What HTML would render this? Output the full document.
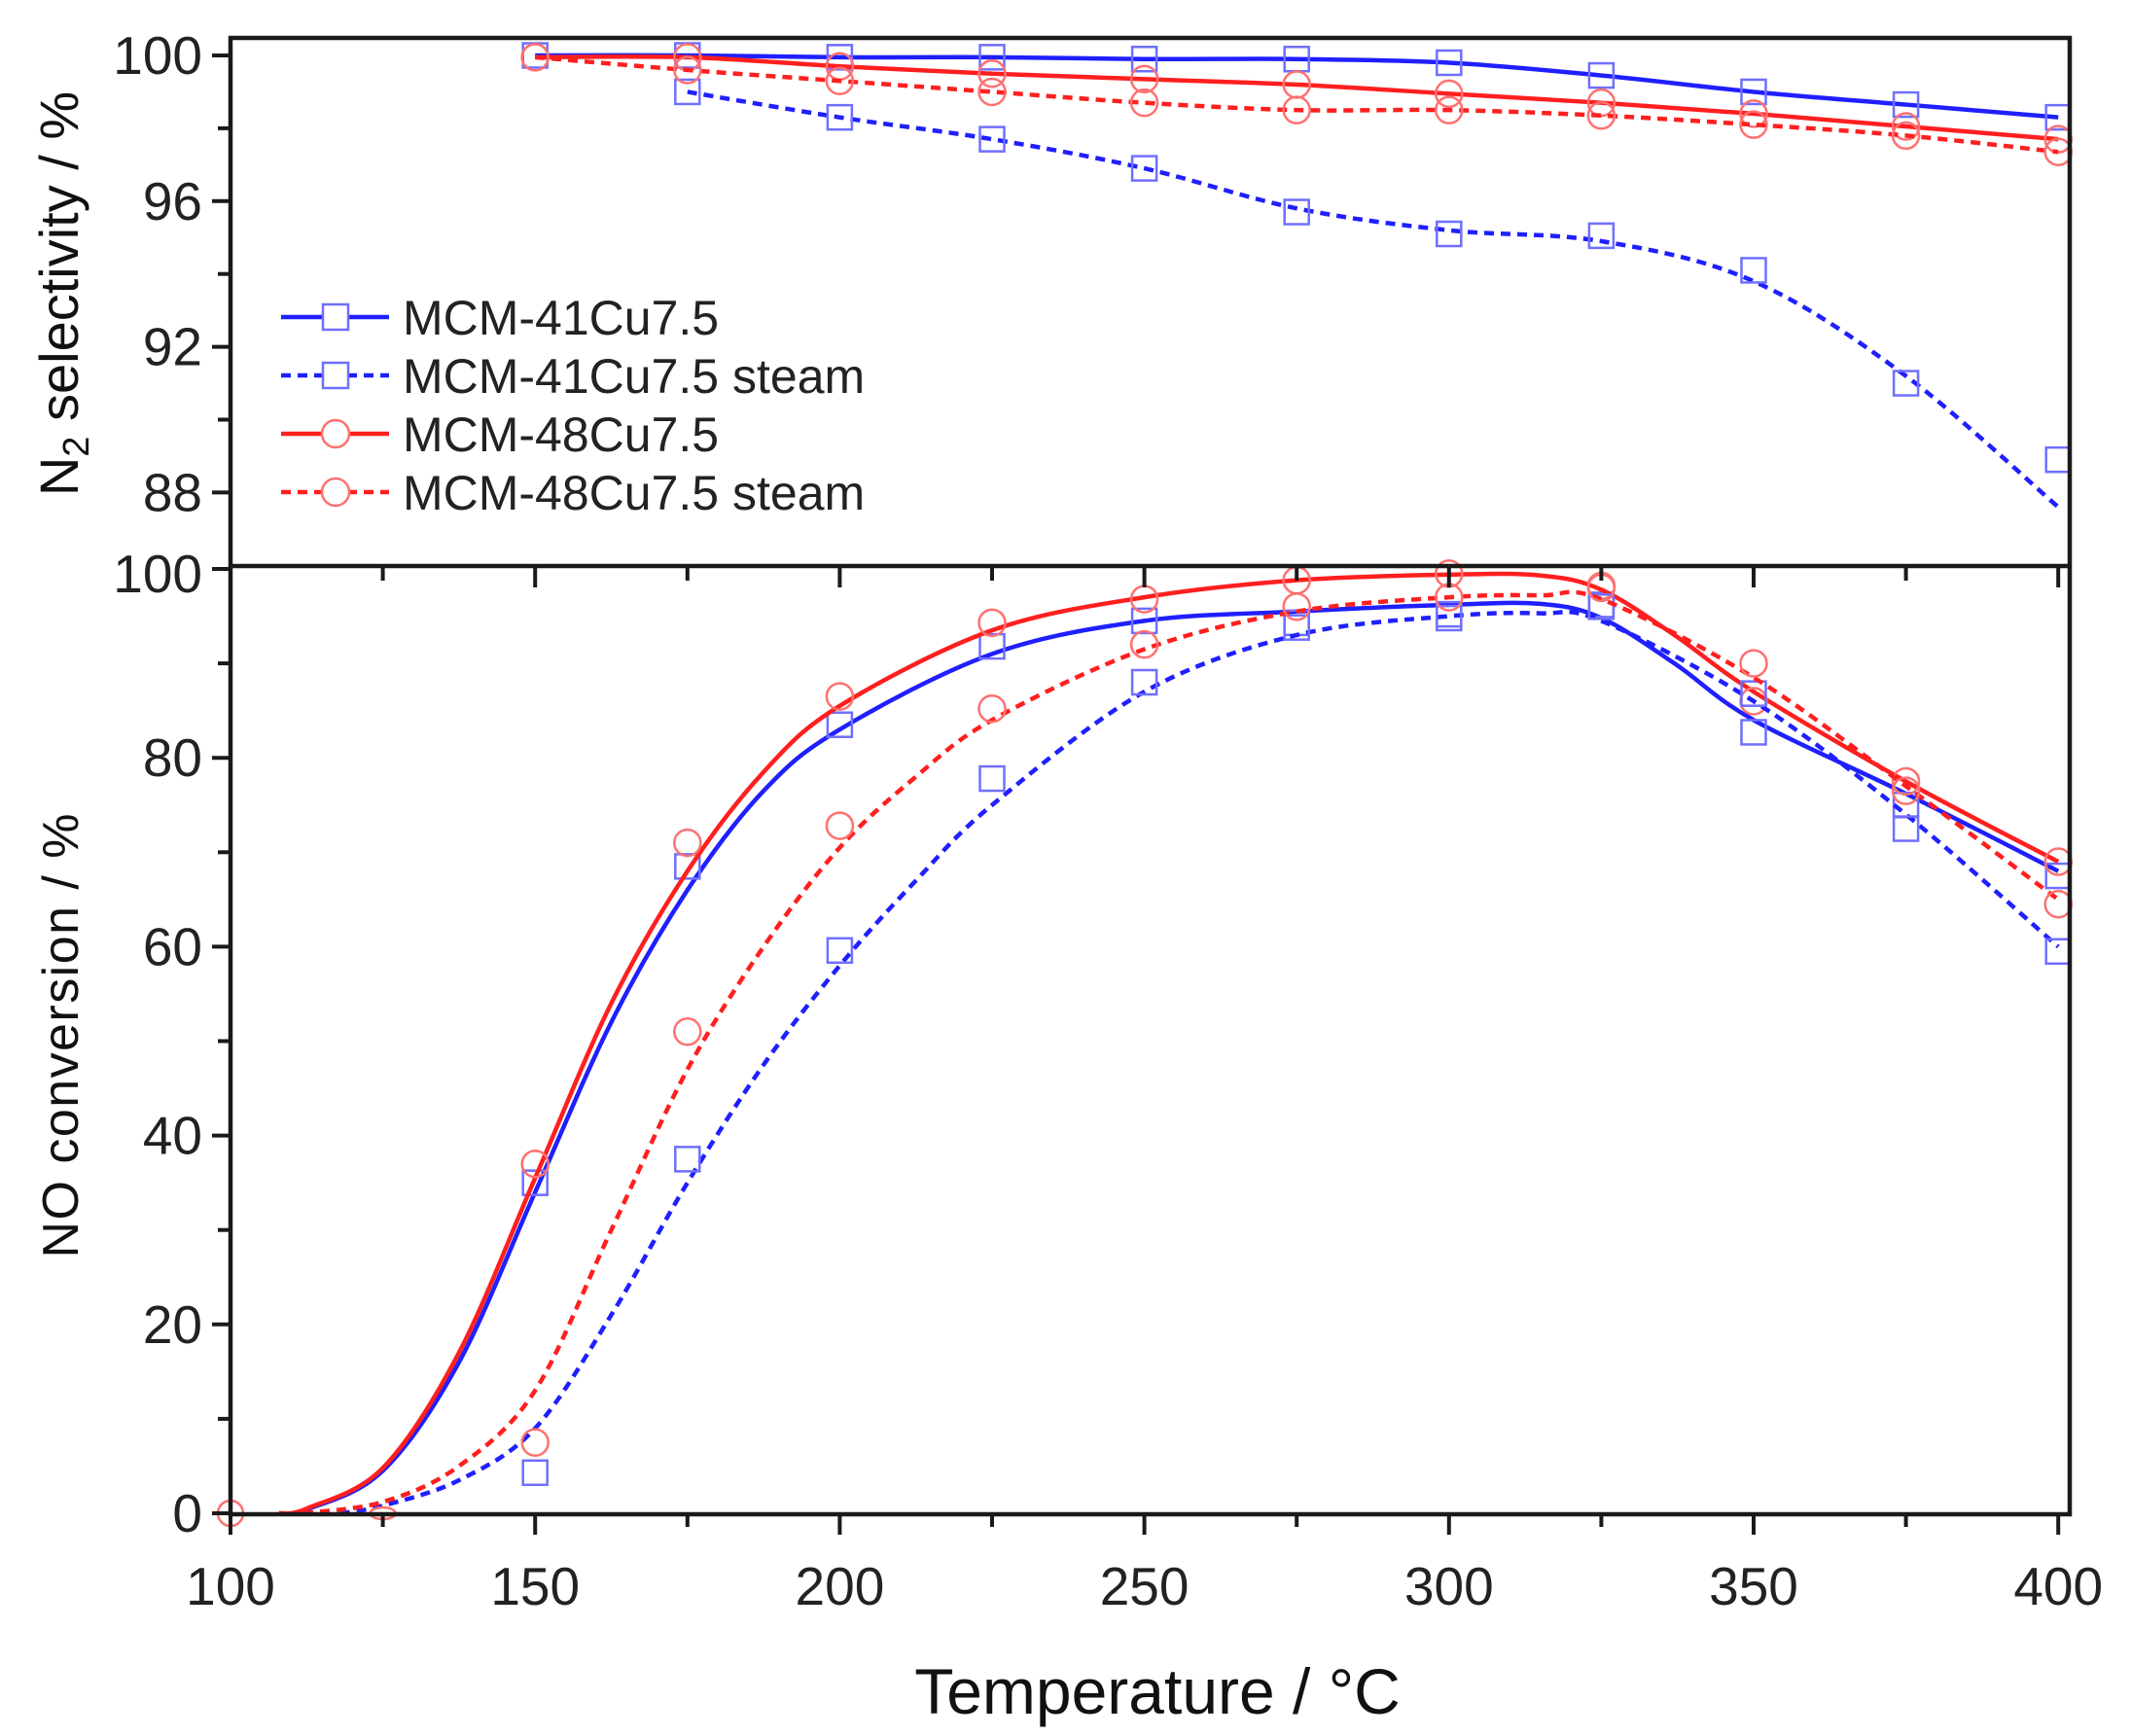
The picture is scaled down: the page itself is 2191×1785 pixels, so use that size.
<!DOCTYPE html>
<html><head><meta charset="utf-8"><style>
html,body{margin:0;padding:0;background:#fff;}
svg{display:block;font-family:"Liberation Sans",Arial,sans-serif;}
</style></head><body>
<svg id="s" width="2191" height="1785" viewBox="0 0 2191 1785" xmlns="http://www.w3.org/2000/svg">
<rect width="2191" height="1785" fill="#fff"/>
<g id="data"></g>
<g id="axes" stroke="#1a1a1a" stroke-width="4.5" fill="none">
<rect x="237" y="39" width="1891" height="1518"/>
<line x1="237" y1="582" x2="2128" y2="582"/>
</g>
<g id="ticks" stroke="#1a1a1a" stroke-width="4"></g>
<g font-size="55" fill="#222" text-anchor="end" id="ylab"></g>
<g font-size="55" fill="#222" text-anchor="middle" id="xlab"></g>
<text x="1190" y="1762" font-size="66" text-anchor="middle" fill="#111">Temperature / °C</text>
<text transform="translate(80,302) rotate(-90)" font-size="56" text-anchor="middle" fill="#111">N<tspan font-size="38" dy="11">2</tspan><tspan dy="-11"> selectivity / %</tspan></text>
<text transform="translate(80,1065) rotate(-90)" font-size="52" text-anchor="middle" fill="#111" textLength="457">NO conversion / %</text>
<g id="legend" font-size="50" fill="#222"></g>
</svg>
<script>
const NS="http://www.w3.org/2000/svg";
function el(t,a,p){const e=document.createElementNS(NS,t);for(const k in a)e.setAttribute(k,a[k]);(p||document.getElementById('data')).appendChild(e);return e;}
const X=T=>237+(T-100)*6.264;
const YT=v=>57+(100-v)*37.45;
const YB=v=>1556-v*9.71;
function cr(pts){let d="M"+pts[0][0]+","+pts[0][1];for(let i=0;i<pts.length-1;i++){const p0=pts[Math.max(0,i-1)],p1=pts[i],p2=pts[i+1],p3=pts[Math.min(pts.length-1,i+2)];
const c1=[p1[0]+(p2[0]-p0[0])/6,p1[1]+(p2[1]-p0[1])/6],c2=[p2[0]-(p3[0]-p1[0])/6,p2[1]-(p3[1]-p1[1])/6];d+=" C"+c1+" "+c2+" "+p2;}return d;}
const BL="#1f1fff",RD="#ff1f1f",BLm="#6f6fff",RDm="#ff7070";
function series(curve,marks,Y,col,mcol,dash,shape){
 el('path',{d:cr(curve.map(p=>[X(p[0]),Y(p[1])])),stroke:col,'stroke-width':4.5,fill:'none','stroke-dasharray':dash?'10 7':'none'});
 marks.forEach(p=>{const x=X(p[0]),y=Y(p[1]);
  if(shape=='s')el('rect',{x:x-12.5,y:y-12.5,width:25,height:25,fill:'none',stroke:mcol,'stroke-width':2.5});
  else el('ellipse',{cx:x,cy:y,rx:13.5,ry:13.5,fill:'none',stroke:mcol,'stroke-width':2.5});});
}
const T=[150,175,200,225,250,275,300,325,350,375,400];
const t41=[100,100,99.95,99.95,99.9,99.9,99.8,99.45,99.0,98.65,98.3];
const t41s=[null,99.0,98.3,97.7,96.9,95.7,95.1,95.05,94.1,91.0,88.9];
const t48=[99.95,99.95,99.7,99.5,99.35,99.2,98.95,98.7,98.4,98.05,97.7];
const t48s=[99.95,99.6,99.3,99.0,98.7,98.5,98.5,98.35,98.1,97.8,97.35];
const zip=a=>T.map((t,i)=>[t,a[i]]).filter(p=>p[1]!=null);
series(zip(t41),zip(t41),YT,BL,BLm,false,'s');
series([[175,99.0],[200,98.3],[225,97.7],[250,96.9],[275,95.8],[300,95.2],[325,94.9],[350,93.8],[375,91.2],[400,87.6]],zip(t41s),YT,BL,BLm,true,'s');
series(zip(t48),zip(t48),YT,RD,RDm,false,'c');
series(zip(t48s),zip(t48s),YT,RD,RDm,true,'c');
series([[108,0],[112.5,0.4],[125,4.5],[137.5,16],[150,34],[162.5,52],[175,66],[187.5,76.5],[200,83],[225,91],[250,94.5],[275,95.5],[300,96.2],[315,96.3],[325,94.8],[337,90],[350,84],[375,76.2],[400,68]],
 zip([35,68.5,83.5,91.8,94.5,94.3,95.2,96.2,82.7,75,67.5]),YB,BL,BLm,false,'s');
series([[108,0],[112.5,0.5],[125,4.8],[137.5,17],[150,35.5],[162.5,54],[175,68],[187.5,78.5],[200,85.5],[225,93.5],[250,97],[275,98.8],[300,99.4],[315,99.3],[325,97.8],[337,93],[350,87],[375,77.5],[400,69]],
 zip([37,71,86.5,94.3,96.8,98.8,99.5,98.2,86,77.5,69]),YB,RD,RDm,false,'c');
series([[118,0],[125,0.8],[137.5,3.5],[150,9],[162.5,21],[175,35],[187.5,47.5],[200,58],[212.5,67],[225,75],[250,87],[275,93],[300,95],[315,95.3],[325,94.5],[350,86],[375,74],[400,60]],
 zip([4.3,37.5,59.6,77.8,88,93.8,94.8,96,86.8,72.5,59.5]),YB,BL,BLm,true,'s');
series([[112,0],[125,1.2],[137.5,5],[150,13],[162.5,30],[175,47],[187.5,60],[200,70.5],[212.5,78],[225,84],[250,91.5],[275,95.5],[300,97],[315,97.2],[325,96.8],[350,88.5],[375,77],[400,65]],
 zip([7.5,51,72.8,85.2,92,96,97,98,90,76.5,64.5]),YB,RD,RDm,true,'c');
el('ellipse',{cx:X(100),cy:YB(0),rx:13,ry:13,fill:'none',stroke:RDm,'stroke-width':2.5});
el('ellipse',{cx:X(125),cy:YB(0),rx:13,ry:6,fill:'none',stroke:RDm,'stroke-width':2.5});
const tk=document.getElementById('ticks'),yl=document.getElementById('ylab'),xl=document.getElementById('xlab');
for(let v=88;v<=100;v+=2){const y=YT(v);el('line',{x1:237,x2:v%4==0?218:224,y1:y,y2:y},tk);if(v%4==0){const t=el('text',{x:208,y:y+19},yl);t.textContent=v;}}
for(let v=0;v<=100;v+=10){const y=YB(v);el('line',{x1:237,x2:v%20==0?218:224,y1:y,y2:y},tk);if(v%20==0){const t=el('text',{x:208,y:(v==100?y+24:y+19)},yl);t.textContent=v;}}
for(let T2=100;T2<=400;T2+=25){const x=X(T2);const maj=T2%50==0;
 el('line',{x1:x,x2:x,y1:1557,y2:maj?1578:1570},tk);
 el('line',{x1:x,x2:x,y1:582,y2:maj?604:597},tk);
 if(maj){const t=el('text',{x:x,y:1650},xl);t.textContent=T2;}}
const lg=document.getElementById('legend');
const L=[["MCM-41Cu7.5",BL,BLm,false,'s',326],["MCM-41Cu7.5 steam",BL,BLm,true,'s',386],["MCM-48Cu7.5",RD,RDm,false,'c',446],["MCM-48Cu7.5 steam",RD,RDm,true,'c',506]];
L.forEach(r=>{const y=r[5];el('line',{x1:289,x2:400,y1:y,y2:y,stroke:r[1],'stroke-width':4.5,'stroke-dasharray':r[3]?'10 7':'none'},lg);
 if(r[4]=='s')el('rect',{x:332,y:y-13,width:26,height:26,fill:'#fff',stroke:r[2],'stroke-width':2.5},lg);
 else el('ellipse',{cx:345,cy:y,rx:14,ry:14,fill:'#fff',stroke:r[2],'stroke-width':2.5},lg);
 const t=el('text',{x:414,y:y+18},lg);t.textContent=r[0];});
</script>
</body></html>
